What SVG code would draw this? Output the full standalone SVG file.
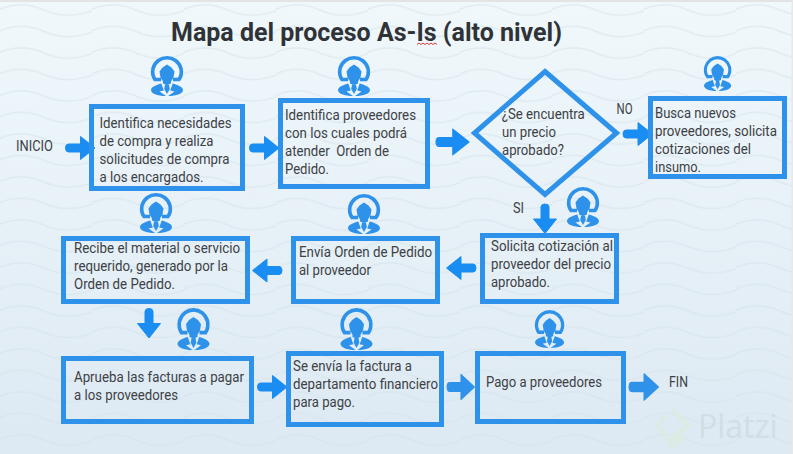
<svg xmlns="http://www.w3.org/2000/svg" xmlns:xlink="http://www.w3.org/1999/xlink" width="793" height="454" viewBox="0 0 793 454">
<style>
.box{fill:none;stroke:#2f92ea;stroke-width:5}
.t{font-family:Roboto,"Liberation Sans",sans-serif;font-size:15.5px;fill:#3d4145}
.ar{fill:#1a8df2;stroke:#1a8df2;stroke-width:1;stroke-linejoin:round}
.ic{fill:#2f92ea}
</style>
<defs>
<linearGradient id="bg" x1="0" y1="0" x2="0" y2="1"><stop offset="0" stop-color="#f0f8fb"/><stop offset="1" stop-color="#dde9f3"/></linearGradient>
<pattern id="waves" width="92" height="21.5" patternUnits="userSpaceOnUse">
<path d="M-2 10 C14 3 28 3 44 10 S76 17 94 10" fill="none" stroke="#d6e2e9" stroke-width="1.4" opacity=".6"/>
</pattern>
<path id="arrow" d="M3 -4 L15 -4 L15 -11.5 L29.5 0 L15 11.5 L15 4 L3 4 Q0 4 0 0 Q0 -4 3 -4 Z"/>
<g id="person">
<path d="M10 23.5 L4 23.5 C1.5 20 1.5 15 2 12.500 C4 5.500 10 1.800 16 1.800 C22 1.800 28 5.500 30 12.500 C30.500 15 30.500 20 28 23.500 L22 23.500" fill="none" stroke="#2f92ea" stroke-width="3.6"/>
<path class="ic" d="M8.500 15.500 L11.500 11.500 L16 8.500 L20.500 11.500 L23.500 15.500 L22.500 21.500 L20 25.500 L20 27.500 L16 29 L12 27.500 L12 25.500 L9.500 21.500 Z"/>
<path class="ic" d="M14 28.500 L18 28.500 L18.800 33 L16 38 L13.200 33 Z"/>
<path class="ic" d="M10.300 27.500 C5 29 0 31 0 34 C0 37.500 6 40 15 40 L8.500 35.500 L12.800 34.500 Z"/>
<path class="ic" d="M21.700 27.500 C27 29 32 31 32 34 C32 37.500 26 40 17 40 L23.500 35.500 L19.200 34.500 Z"/>
</g>
</defs>
<rect width="793" height="454" fill="url(#bg)"/>
<rect width="793" height="454" fill="url(#waves)"/>
<rect width="793" height="2" fill="#e3e3e3"/>
<rect x="791.5" width="1.5" height="454" fill="#e6e8ea"/>

<g id="watermark">
<path d="M672 409 L688 425 L674 438 L672 436 M665 416 L658 425 L672 446 L684 436" fill="none" stroke="#dcebe3" stroke-width="5"/>
<text x="698" y="438" font-family="'Open Sans',Roboto,sans-serif" font-size="32" fill="#cfd8de" opacity=".7">Platzi</text>
</g>

<g id="title">
<text x="171" y="40.5" font-family="Roboto,'Liberation Sans',sans-serif" font-size="25px" font-weight="700" fill="#2f3338" textLength="391" lengthAdjust="spacingAndGlyphs">Mapa del proceso As-Is (alto nivel)</text>
<path d="M417 44.500 l2 -1.500 l2 1.500 l2 -1.500 l2 1.500 l2 -1.500 l2 1.500 l2 -1.500 l2 1.500 l2 -1.500 l2 1.500" fill="none" stroke="#d23b3b" stroke-width="1"/>
</g>

<g id="connectors">
<use href="#arrow" class="ar" transform="translate(65.500 148)"/>
<use href="#arrow" class="ar" transform="translate(249.500 148)"/>
<use href="#arrow" class="ar" transform="translate(436 142) scale(1.12)"/>
<use href="#arrow" class="ar" transform="translate(623 134)"/>
<use href="#arrow" class="ar" transform="translate(545 204) rotate(90)"/>
<use href="#arrow" class="ar" transform="translate(476 268) rotate(180)"/>
<use href="#arrow" class="ar" transform="translate(282 270.500) rotate(180)"/>
<use href="#arrow" class="ar" transform="translate(149 308.500) rotate(90)"/>
<use href="#arrow" class="ar" transform="translate(257.500 387)"/>
<use href="#arrow" class="ar" transform="translate(447 387) scale(.93 1.1)" style="fill:#2f92ea;stroke:#2f92ea"/>
<use href="#arrow" class="ar" transform="translate(629 387) scale(1 1.15)" style="fill:#2f92ea;stroke:#2f92ea"/>
</g>

<g id="inicio"><text class="t" x="16" y="151" textLength="37" lengthAdjust="spacingAndGlyphs">INICIO</text></g>

<g id="node1">
<use href="#person" transform="translate(151 56)"/>
<rect class="box" x="91.500" y="106.500" width="151" height="82"/>
<text class="t" x="99.500" y="128" textLength="132" lengthAdjust="spacingAndGlyphs">Identifica necesidades</text>
<text class="t" x="99.500" y="146" textLength="114" lengthAdjust="spacingAndGlyphs">de compra y realiza</text>
<text class="t" x="99.500" y="164" textLength="130" lengthAdjust="spacingAndGlyphs">solicitudes de compra</text>
<text class="t" x="99.500" y="182" textLength="104" lengthAdjust="spacingAndGlyphs">a los encargados.</text>
</g>

<g id="node2">
<use href="#person" transform="translate(338 56)"/>
<rect class="box" x="280.500" y="100.500" width="147" height="86"/>
<text class="t" x="285" y="119.500" textLength="131" lengthAdjust="spacingAndGlyphs">Identifica proveedores</text>
<text class="t" x="285" y="137.500" textLength="122" lengthAdjust="spacingAndGlyphs">con los cuales podrá</text>
<text class="t" x="285" y="155.500" textLength="104" lengthAdjust="spacingAndGlyphs" xml:space="preserve">atender  Orden de</text>
<text class="t" x="285" y="173.500" textLength="44" lengthAdjust="spacingAndGlyphs">Pedido.</text>
</g>

<g id="node3">
<polygon points="545,71.500 616.500,133 545,194.500 474.500,133" fill="none" stroke="#2f92ea" stroke-width="5"/>
<text class="t" x="501.700" y="119" textLength="83" lengthAdjust="spacingAndGlyphs">¿Se encuentra</text>
<text class="t" x="502" y="137" textLength="54" lengthAdjust="spacingAndGlyphs">un precio</text>
<text class="t" x="502" y="155" textLength="62" lengthAdjust="spacingAndGlyphs">aprobado?</text>
</g>
<g id="label-no"><text class="t" x="616.500" y="114" textLength="16" lengthAdjust="spacingAndGlyphs">NO</text></g>
<g id="label-si"><text class="t" x="513" y="212.500" textLength="11" lengthAdjust="spacingAndGlyphs">SI</text></g>

<g id="node4">
<g transform="translate(704 56) scale(.85 .875)"><use href="#person"/></g>
<rect class="box" x="650.500" y="98.500" width="134" height="78"/>
<text class="t" x="655" y="118" textLength="81" lengthAdjust="spacingAndGlyphs">Busca nuevos</text>
<text class="t" transform="translate(655 136) scale(.88 1)" x="0" y="0" textLength="138.600" lengthAdjust="spacingAndGlyphs">proveedores, solicita</text>
<text class="t" x="655" y="154" textLength="96" lengthAdjust="spacingAndGlyphs">cotizaciones del</text>
<text class="t" x="655" y="172" textLength="46" lengthAdjust="spacingAndGlyphs">insumo.</text>
</g>

<g id="node5">
<use href="#person" transform="translate(567 187)"/>
<rect class="box" x="482.500" y="235.500" width="134" height="66"/>
<text class="t" x="491" y="251" textLength="122" lengthAdjust="spacingAndGlyphs">Solicita cotización al</text>
<text class="t" x="491" y="269" textLength="120" lengthAdjust="spacingAndGlyphs">proveedor del precio</text>
<text class="t" x="491" y="287" textLength="59" lengthAdjust="spacingAndGlyphs">aprobado.</text>
</g>

<g id="node6">
<use href="#person" transform="translate(348 194)"/>
<rect class="box" x="293.500" y="238.500" width="144" height="63"/>
<text class="t" x="299" y="257" textLength="133" lengthAdjust="spacingAndGlyphs">Envía Orden de Pedido</text>
<text class="t" x="299" y="275" textLength="72" lengthAdjust="spacingAndGlyphs">al proveedor</text>
</g>

<g id="node7">
<use href="#person" transform="translate(140 193)"/>
<rect class="box" x="63.500" y="238.500" width="184" height="63"/>
<text class="t" x="74" y="253" textLength="166" lengthAdjust="spacingAndGlyphs">Recibe el material o servicio</text>
<text class="t" x="74" y="271" textLength="154" lengthAdjust="spacingAndGlyphs">requerido, generado por la</text>
<text class="t" x="74" y="289" textLength="101" lengthAdjust="spacingAndGlyphs">Orden de Pedido.</text>
</g>

<g id="node8">
<use href="#person" transform="translate(177.500 308) scale(1 1.05)"/>
<rect class="box" x="63.500" y="358.500" width="188" height="63"/>
<text class="t" x="74" y="382" textLength="170" lengthAdjust="spacingAndGlyphs">Aprueba las facturas a pagar</text>
<text class="t" x="74" y="400" textLength="104" lengthAdjust="spacingAndGlyphs">a los proveedores</text>
</g>

<g id="node9">
<use href="#person" transform="translate(340.500 308) scale(1 1.05)"/>
<rect class="box" x="288.500" y="353.500" width="153" height="71"/>
<text class="t" x="293" y="371" textLength="119" lengthAdjust="spacingAndGlyphs">Se envía la factura a</text>
<text class="t" x="293" y="389" textLength="145" lengthAdjust="spacingAndGlyphs">departamento financiero</text>
<text class="t" x="293" y="407" textLength="62" lengthAdjust="spacingAndGlyphs">para pago.</text>
</g>

<g id="node10">
<g transform="translate(535 310) scale(.91 .95)"><use href="#person"/></g>
<rect class="box" x="477.500" y="353.500" width="146" height="68"/>
<text class="t" x="486" y="387" textLength="116" lengthAdjust="spacingAndGlyphs">Pago a proveedores</text>
</g>

<g id="fin"><text class="t" x="669" y="387" textLength="19" lengthAdjust="spacingAndGlyphs">FIN</text></g>
</svg>
